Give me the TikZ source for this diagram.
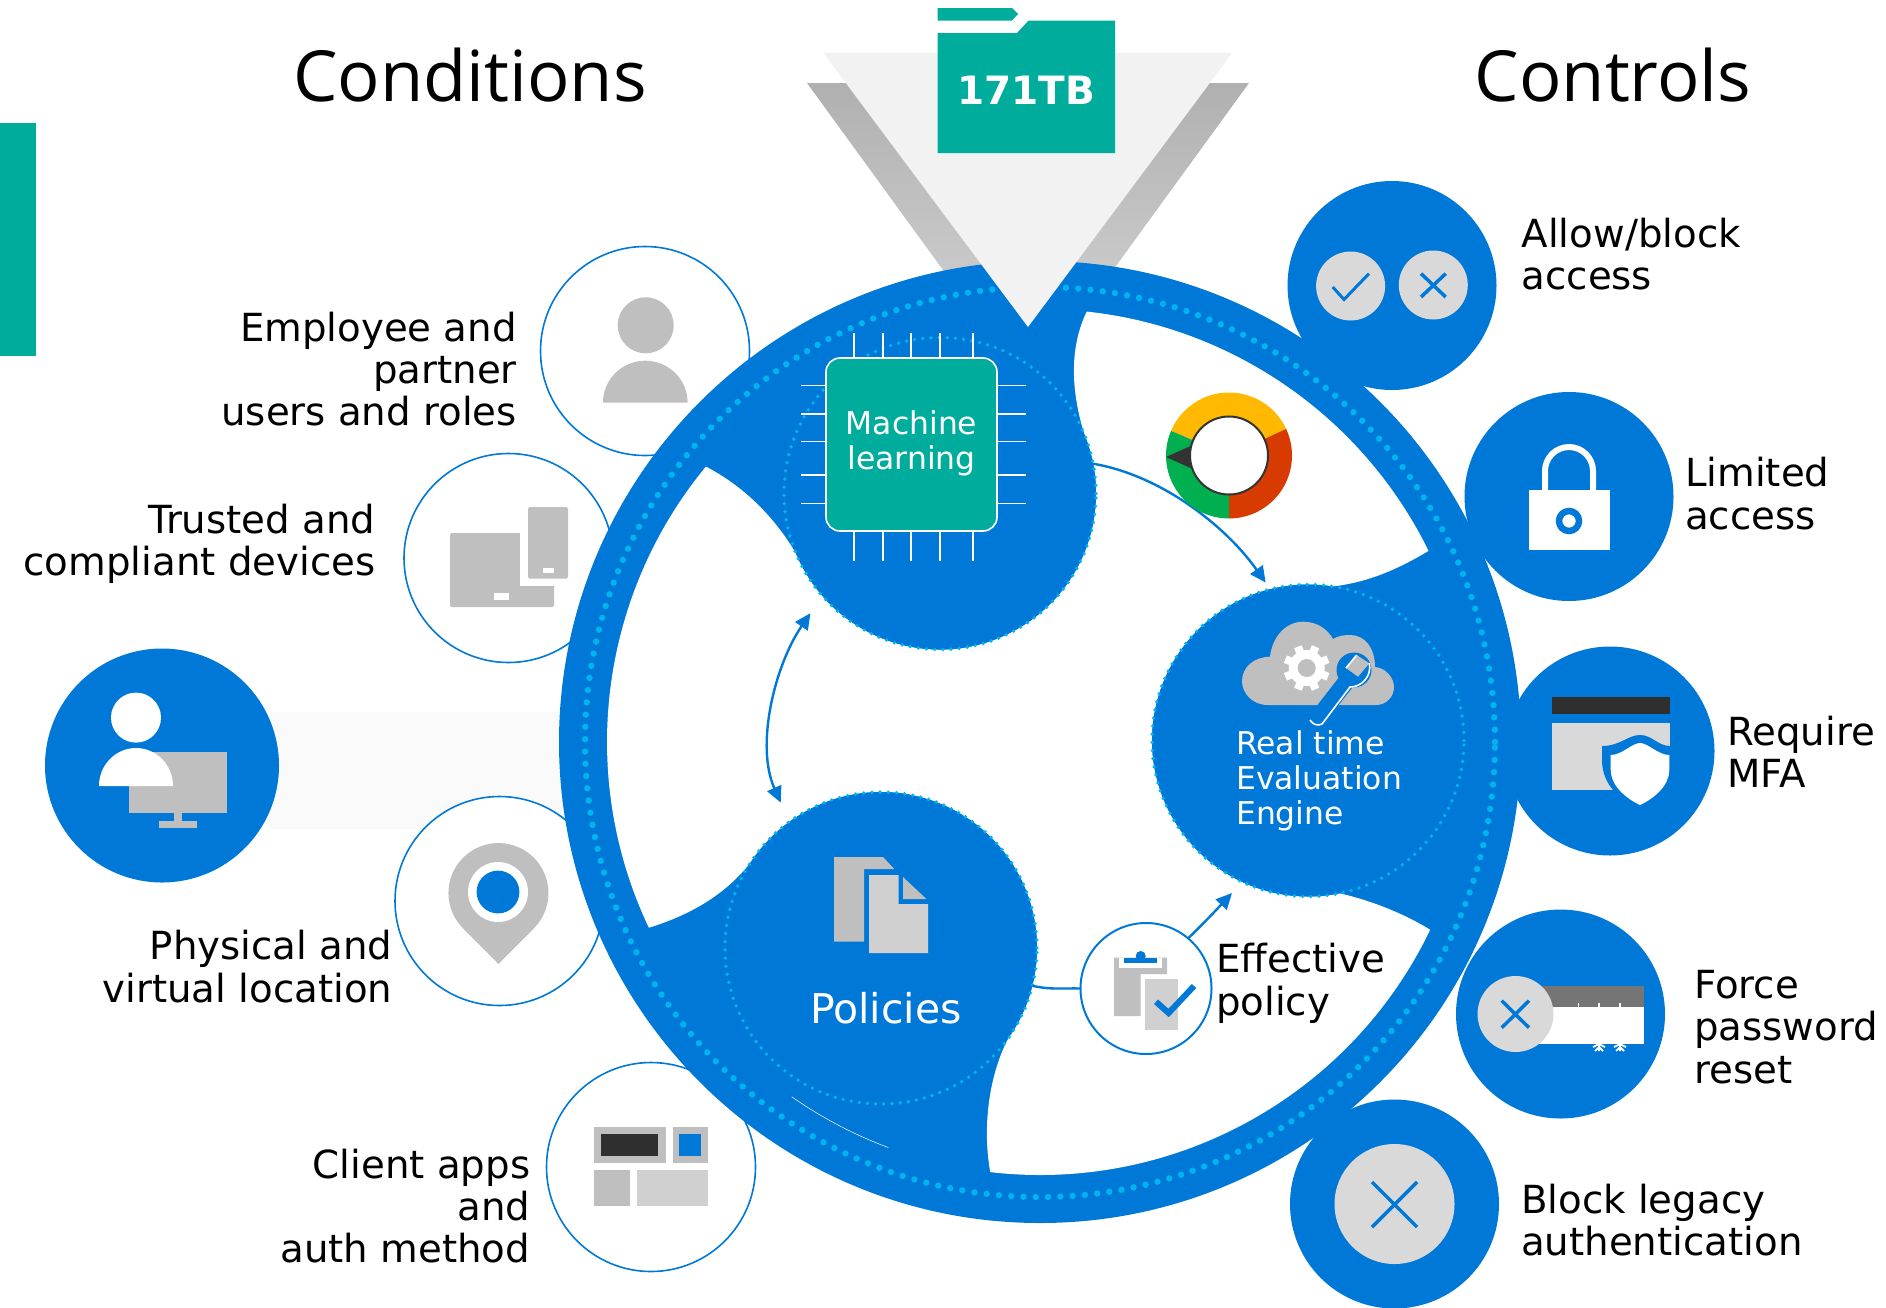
\documentclass[tikz,border=0pt]{standalone}
\usepackage{fontspec}
\usepackage{tikz}
\usetikzlibrary{arrows.meta}
\setmainfont{DejaVu Sans}
\newfontfamily\titlefont{Open Sans}
\definecolor{msblue}{HTML}{0078D7}
\definecolor{dotblue}{HTML}{00B4F0}
\definecolor{folderteal}{HTML}{00AD9C}
\definecolor{iconA}{HTML}{BFBFBF}
\definecolor{iconB}{HTML}{D0D0D0}
\definecolor{iconC}{HTML}{D9D9D9}
\definecolor{iconD}{HTML}{2F2F2F}
\definecolor{gaugeY}{HTML}{FFB900}
\definecolor{gaugeR}{HTML}{D83B01}
\definecolor{gaugeG}{HTML}{00B050}
\tikzset{disc/.style={circle,fill=msblue,minimum size=209pt,inner sep=0pt,outer sep=0pt},
	condition/.style={circle,draw=msblue,fill=white,line width=1.6pt,minimum size=209pt,inner sep=0pt,outer sep=0pt},
	lobe/.style={circle,fill=msblue,draw=dotblue,line width=3.8pt,line cap=round,dash pattern=on 0pt off 8.2pt,minimum size=312pt,inner sep=0pt,outer sep=0pt},
	flow/.style={draw=msblue,line width=2.4pt,-{Triangle[length=16pt,width=15pt]}},
	title/.style={font=\titlefont\fontsize{70.5}{80}\selectfont,inner sep=0pt},
	caption/.style={font=\fontsize{38.7}{42.4}\selectfont,inner sep=0pt,text=black},
	inner/.style={font=\fontsize{31.4}{35}\selectfont,inner sep=0pt,text=white,align=left},
	cross/.style={draw=msblue,line width=3.5pt}}
\begin{document}
\begin{tikzpicture}[x=1pt,y=1pt]
		\useasboundingbox (0,-1307) rectangle (1886,0);
		\fill[folderteal] (0,-123) rectangle (36,-356);
		%		funnel back
		\shade[top color=black!31,bottom color=black!15] (807,-83) -- (1249,-83) -- (1028,-387) -- cycle;
		\fill[black!2] (270,-712) rectangle (612,-829);
		\node[disc,minimum size=234pt] (user) at (162,-765.5){};
		\node[condition] (employee) at (645,-351){};
		\node[condition] (trusted) at (508.5,-558){};
		\node[condition] (physical) at (499.5,-901){};
		\node[condition] (client) at (651,-1167){};
		\node[disc,minimum size=962pt] (ring) at (1040,-742){};
		\node[disc] (allow) at (1392,-285.5){};
		\node[disc] (limited) at (1569,-496.5){};
		\node[disc] (mfa) at (1610,-751){};
		\node[disc] (force) at (1560.5,-1014){};
		\node[disc] (block) at (1394.5,-1204){};
		%		white bays between the lobes
		\fill[white] ([shift={(83.8:433)}]1040,-742) arc[start angle=83.8,end angle=26.2,radius=433]
			.. controls (1400,-568) and (1370,-582) .. ([shift={(80.9:156)}]1308,-740.5)
			arc[start angle=80.9,end angle=281.6,radius=156]
			.. controls (1370,-900) and (1405,-914) .. ([shift={(-25.7:433)}]1040,-742)
			arc[start angle=-25.7,end angle=-96.6,radius=433]
			.. controls (981,-1120) and (992,-1068) .. ([shift={(-34.9:156)}]881,-948)
			arc[start angle=-34.9,end angle=146.7,radius=156]
			.. controls (725,-895) and (690,-915) .. ([shift={(205.4:433)}]1040,-742)
			arc[start angle=205.4,end angle=140.5,radius=433]
			.. controls (745,-487) and (775,-518) .. ([shift={(202.7:156)}]940,-493.5)
			arc[start angle=202.7,end angle=382,radius=156]
			.. controls (1072,-395) and (1068,-350) .. cycle;
		\draw[white,line width=0.5pt] ([shift={(235:433)}]1040,-742) arc[start angle=235,end angle=249.5,radius=433];
		\node[circle,draw=dotblue,line width=6.4pt,line cap=round,dash pattern=on 0pt off 12.3pt,minimum size=910pt,inner sep=0pt] (ringdots) at (1040,-742){};
		\node[lobe] (mlcircle) at (940,-493.5){};
		\node[lobe] (rtecircle) at (1308,-740.5){};
		\node[lobe] (polcircle) at (881,-948){};
		%		funnel front and folder
		\fill[black!5] (823,-52.5) -- (1232.5,-52.5) -- (1028,-327) -- cycle;
		\fill[folderteal] (937.5,-8) -- (1012,-8) -- (1018,-14) -- (1012,-20.5) -- (937.5,-20.5) -- cycle;
		\fill[folderteal] (937.5,-33) -- (1017,-33) -- (1028.6,-20.5) -- (1115,-20.5) -- (1115,-153) -- (937.5,-153) -- cycle;
		\node[font=\bfseries\fontsize{39}{44}\selectfont,text=white,inner sep=0pt] (volume) at (1026,-90){171TB};
		%		titles
		\node[title] (conditions) at (470,-75){Conditions};
		\node[title] (controls) at (1613,-75){Controls};
		%		connectors
		\draw[flow,shorten >=8pt] (mlcircle.11) .. controls (1160,-475) and (1225,-525) .. (rtecircle.104);
		\draw[flow,{Triangle[length=16pt,width=15pt]}-{Triangle[length=16pt,width=15pt]},shorten <=21pt,shorten >=21pt] (mlcircle.221) .. controls (775,-665) and (755,-745) .. (polcircle.126);
		\node[condition,minimum size=131pt,line width=2pt] (effective) at (1146,-988.5){};
		\draw[draw=msblue,line width=2.4pt] (polcircle.-14) .. controls (1050,-990) and (1065,-988) .. (effective.west);
		\coordinate (effectiveend) at (1232,-893);
		\draw[flow] (effective.50) .. controls (1205,-922) and (1218,-908) .. (effectiveend);
		%		gauge
		\coordinate (gauge) at (1229,-455.5);
		\fill[gaugeY] (gauge) -- ([shift={(25:63)}]gauge) arc[start angle=25,end angle=157,radius=63] -- cycle;
		\fill[gaugeR] (gauge) -- ([shift={(-90:63)}]gauge) arc[start angle=-90,end angle=25,radius=63] -- cycle;
		\fill[gaugeG] (gauge) -- ([shift={(157:63)}]gauge) arc[start angle=157,end angle=270,radius=63] -- cycle;
		\fill[black!80] (1166,-457) -- (1195,-444) -- (1195,-470) -- cycle;
		\draw[black!80,fill=white,line width=2pt] (gauge) circle[radius=39];
		%		chip
		\foreach \x in {854,883,911,940,973}
			\draw[white,line width=1.6pt] (\x,-333) -- (\x,-560.5);
		\foreach \y in {385.4,414,441.5,474.7,503.6}
			\draw[white,line width=1.6pt] (801,-\y) -- (1026,-\y);
		\node[fill=folderteal,draw=white,line width=1.6pt,rounded corners=14pt,minimum width=171pt,minimum height=173pt,inner sep=0pt] (chip) at (911.5,-444.5){};
		\node[inner,align=center] (mltext) at (911.5,-443.7){Machine\\learning};
		%		real time engine
		\fill[iconA] (1268,-705) .. controls (1252,-705) and (1242,-693) .. (1242,-681) .. controls (1242,-667) and (1254,-657) .. (1270,-656.7)
			.. controls (1272,-638) and (1285,-621.7) .. (1303,-621.7) .. controls (1318,-621.7) and (1328,-630) .. (1333,-639)
			.. controls (1338,-636) and (1343,-635) .. (1350,-635) .. controls (1365,-635) and (1375,-648) .. (1375,-667)
			.. controls (1387,-668) and (1394,-679) .. (1394,-687) .. controls (1394,-697) and (1386,-705) .. (1376,-705) -- cycle;
		\fill[msblue] (1354,-670) circle[radius=17.5];
		\fill[msblue] (1316.7,-706) -- (1340,-676) -- (1352,-688) -- (1322,-726) -- (1310,-721) -- cycle;
		\fill[iconA] (1356.7,-655) -- (1346,-668) -- (1358,-676.7) -- (1369.3,-663.3) -- cycle;
		\draw[white,line width=1.6pt] (1356.7,-655) -- (1346,-668);
		\draw[white,line width=1.6pt] (1310,-720) .. controls (1313,-725) and (1318,-726) .. (1322,-724) -- (1350,-687) .. controls (1362,-687) and (1372,-676) .. (1369.3,-663);
		\coordinate (gear) at (1306.7,-668);
		\foreach \a in {22.5,67.5,...,337.5}
			\draw[white,line width=8pt] ([shift={(\a:12)}]gear) -- ([shift={(\a:23)}]gear);
		\fill[white] (gear) circle[radius=18];
		\fill[iconA] (gear) circle[radius=9];
		\node[inner] (rtetext) at (1236,-781)[anchor=west]{Real time\\Evaluation\\Engine};
		%		policies
		\fill[iconA] (834,-857) -- (883,-857) -- (894.3,-869) -- (864,-869) -- (864,-941.7) -- (834,-941.7) -- cycle;
		\fill[iconB] (869,-875) -- (898.6,-875) -- (898.6,-904) -- (928,-904) -- (928,-953) -- (869,-953) -- cycle;
		\fill[iconA] (903,-877) -- (926.4,-899) -- (903,-899) -- cycle;
		\node[font=\fontsize{41}{46}\selectfont,text=white,inner sep=0pt] (poltext) at (886,-1008){Policies};
		%		effective policy
		\fill[iconA] (1114,-957.7) -- (1167,-957.7) -- (1167,-974) -- (1140.7,-974) -- (1140.7,-1016) -- (1114,-1016) -- cycle;
		\fill[white] (1118.6,-958) rectangle (1162,-968);
		\fill[msblue] (1124,-957.7) rectangle (1157,-963);
		\fill[msblue] (1140.7,-956) circle[radius=5];
		\fill[iconB] (1145,-979) rectangle (1178,-1029.7);
		\draw[msblue,line width=6pt] (1156,-1001.7) -- (1168.6,-1013) -- (1194,-986);
		%		user
		\fill[iconA] (129.4,-752) rectangle (227,-812.5);
		\fill[iconA] (174,-812) rectangle (181.6,-822);
		\fill[iconA] (159,-821) rectangle (197,-827.5);
		\fill[white] (136,-717.6) circle[radius=25];
		\fill[white] (99,-786) arc[start angle=180,end angle=0,x radius=37,y radius=38] -- cycle;
		%		conditions
		\fill[iconA] (645.7,-325.3) circle[radius=28];
		\fill[iconA] (603,-402.7) arc[start angle=180,end angle=0,x radius=42.3,y radius=42] -- cycle;
		\fill[iconA,rounded corners=1.5pt] (450,-533) rectangle (554,-607);
		\fill[white] (520.4,-530) rectangle (570,-585.7);
		\fill[iconA,rounded corners=1.5pt] (528,-507) rectangle (568,-578.6);
		\fill[white] (494,-593) rectangle (509,-600);
		\fill[white] (543,-568) rectangle (553.5,-573);
		\fill[iconA] (498.5,-964) -- (463.1,-928.4) arc[start angle=225,end angle=-45,radius=50] -- cycle;
		\fill[white] (498,-892) circle[radius=30];
		\fill[msblue] (498,-892) circle[radius=21.4];
		\fill[iconA] (594,-1127) rectangle (666,-1163);
		\fill[iconD] (601,-1134) rectangle (658,-1156);
		\fill[iconA] (672.7,-1127) rectangle (707.7,-1163);
		\fill[msblue] (679,-1134) rectangle (701,-1156);
		\fill[iconA] (594,-1170) rectangle (630,-1206);
		\fill[iconB] (637,-1170) rectangle (708,-1206);
		%		controls
		\fill[iconC] (1350.6,-286) circle[radius=34.5];
		\fill[iconC] (1433.3,-285) circle[radius=34.5];
		\draw[msblue,line width=3pt] (1332.7,-287) -- (1344,-299.5) -- (1369,-273.6);
		\draw[cross] (1421,-273.6) -- (1445.7,-297) (1421,-297) -- (1445.7,-273.6);
		\fill[white] (1529,-490) rectangle (1609.7,-549.5);
		\draw[white,line width=6pt] (1545,-490) -- (1545,-471) arc[start angle=180,end angle=0,radius=24] -- (1593,-490);
		\draw[msblue,fill=white,line width=6.5pt] (1569,-521) circle[radius=10];
		\fill[iconD] (1552,-697) rectangle (1670,-714);
		\fill[iconC] (1552,-723) rectangle (1670,-790);
		\fill[msblue] (1602,-746) .. controls (1620,-746) and (1628,-735) .. (1640,-735) .. controls (1652,-735) and (1658,-746) .. (1670,-746) -- (1670,-800) -- (1640,-810) .. controls (1620,-800) and (1602,-785) .. (1602,-760) -- cycle;
		\fill[white] (1610.7,-755) .. controls (1622,-755) and (1632,-743) .. (1640,-743) .. controls (1648,-743) and (1658,-755) .. (1669.3,-755) -- (1669.3,-770) .. controls (1669.3,-785) and (1655,-798) .. (1640,-805) .. controls (1625,-798) and (1610.7,-785) .. (1610.7,-770) -- cycle;
		\fill[black!54] (1530,-985.7) rectangle (1644,-1006.7);
		\foreach \x in {1578.5,1599,1620}
			\draw[white,line width=1.6pt] (\x,-1003) -- (\x,-1007);
		\fill[white] (1530,-1006.7) rectangle (1644,-1044);
		\foreach \x in {1599,1620}
			\draw[white,line width=1.8pt] (\x,-1044) -- (\x,-1051) (\x-6,-1047) -- (\x,-1044) -- (\x+6,-1047) (\x-4,-1051) -- (\x,-1047) -- (\x+4,-1051);
		\fill[iconC] (1515.5,-1014) circle[radius=38];
		\draw[cross] (1501.7,-1000.7) -- (1529,-1027.7) (1501.7,-1027.7) -- (1529,-1000.7);
		\fill[iconC] (1394.5,-1204) circle[radius=60];
		\draw[cross] (1372,-1182) -- (1417,-1227) (1372,-1227) -- (1417,-1182);
		%		captions
		\node[caption,align=right,anchor=east] (employeetext) at (517,-369){Employee and\\partner\\users and roles};
		\node[caption,align=right,anchor=east] (trustedtext) at (375.5,-544){Trusted and\\compliant devices};
		\node[caption,align=right,anchor=east] (physicaltext) at (392.5,-966.5){Physical and\\virtual location};
		\node[caption,align=right,anchor=east] (clienttext) at (530.4,-1206){Client apps\\and\\auth method};
		\node[caption,align=left,anchor=west] (allowtext) at (1521.5,-254){Allow/block\\access};
		\node[caption,align=left,anchor=west] (limitedtext) at (1685,-493.7){Limited\\access};
		\node[caption,align=left,anchor=west] (mfatext) at (1727,-752){Require\\MFA};
		\node[caption,align=left,anchor=west] (forcetext) at (1694,-1027){Force\\password\\reset};
		\node[caption,align=left,anchor=west] (blocktext) at (1521,-1220){Block legacy\\authentication};
		\node[caption,align=left,anchor=west] (effectivetext) at (1216,-983.5){Effective\\policy};
		\end{tikzpicture}
\end{document}
